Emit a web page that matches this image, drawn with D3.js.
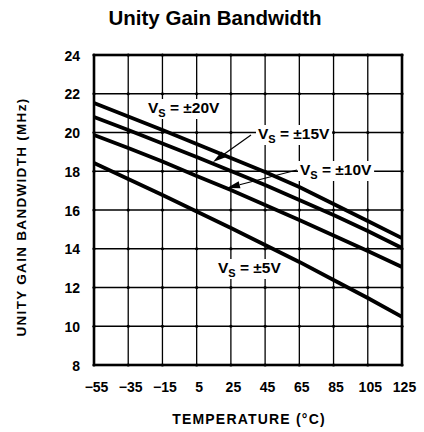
<!DOCTYPE html>
<html>
<head>
<meta charset="utf-8">
<script src="https://cdn.jsdelivr.net/npm/d3@7"></script>
<style>
  body { margin: 0; background: #fff; }
  text { font-family: 'Liberation Sans', Arial, sans-serif; font-weight: bold; fill: #000; }
</style>
</head>
<body>
<div id="chart"></div>
<script>
// Data
const temps = [-55, -35, -15, 5, 25, 45, 65, 85, 105, 125]
const vs20 = [21.52, 20.83, 20.13, 19.41, 18.68, 17.96, 17.19, 16.31, 15.43, 14.55]
const vs15 = [20.80, 20.13, 19.43, 18.74, 18.01, 17.29, 16.52, 15.74, 14.92, 14.04]
const vs10 = [19.87, 19.20, 18.50, 17.75, 17.03, 16.26, 15.48, 14.68, 13.88, 13.06]
const vs5 = [18.43, 17.60, 16.77, 15.92, 15.07, 14.19, 13.32, 12.39, 11.46, 10.48]
const yTicks = [8, 10, 12, 14, 16, 18, 20, 22, 24]
const labels = ['±20V', '±15V', '±10V', '±5V']

const width = 424,
  height = 432

let svg = d3.select('#chart')
  .append('svg')
  .attr('width', width)
  .attr('height', height)

const x = d3.scaleLinear().domain([-55, 125]).range([94, 402])
const y = d3.scaleLinear().domain([8, 24]).range([365, 55])

// title
svg.append('text')
  .attr('x', 215)
  .attr('y', 25)
  .attr('text-anchor', 'middle')
  .style('font-size', '20.5px')
  .text('Unity Gain Bandwidth')

// grid
svg.append('g')
  .selectAll('line')
  .data(temps)
  .enter()
  .append('line')
  .attr('x1', d => x(d)).attr('x2', d => x(d))
  .attr('y1', y(8)).attr('y2', y(24))
  .attr('stroke', '#000').attr('stroke-width', 1.3)

svg.append('g')
  .selectAll('line')
  .data(yTicks)
  .enter()
  .append('line')
  .attr('x1', x(-55)).attr('x2', x(125))
  .attr('y1', d => y(d)).attr('y2', d => y(d))
  .attr('stroke', '#000').attr('stroke-width', 1.3)

// little dots at grid crossings
let crossings = []
temps.forEach(t => yTicks.forEach(v => crossings.push([t, v])))
svg.append('g')
  .selectAll('circle')
  .data(crossings)
  .enter()
  .append('circle')
  .attr('cx', d => x(d[0]))
  .attr('cy', d => y(d[1]))
  .attr('r', 1.6)
  .attr('fill', '#000')

// frame
svg.append('rect')
  .attr('x', x(-55)).attr('y', y(24))
  .attr('width', x(125) - x(-55))
  .attr('height', y(8) - y(24))
  .attr('fill', 'none')
  .attr('stroke', '#000')
  .attr('stroke-width', 2.6)

// axes
const yAxis = d3.axisLeft(y).tickValues(yTicks).tickSize(0).tickPadding(14)
const xAxis = d3.axisBottom(x).tickValues(temps).tickSize(0).tickPadding(16)
  .tickFormat(d => d < 0 ? '\u2212' + Math.abs(d) : d)

let gy = svg.append('g').attr('transform', 'translate(' + x(-55) + ',0)').call(yAxis)
let gx = svg.append('g').attr('transform', 'translate(0,' + y(8) + ')').call(xAxis)
gy.select('.domain').remove()
gx.select('.domain').remove()
gy.selectAll('text').style('font-size', '14px').attr('dy', '0.36em')
gx.selectAll('text').style('font-size', '14px').attr('dx', '2').attr('dy', '0.75em')

// axis titles
svg.append('text')
  .attr('x', 249)
  .attr('y', 424)
  .attr('text-anchor', 'middle')
  .style('font-size', '14px')
  .style('letter-spacing', '1.2px')
  .text('TEMPERATURE (°C)')

svg.append('text')
  .attr('transform', 'translate(26,217) rotate(-90)')
  .attr('text-anchor', 'middle')
  .style('font-size', '13.5px')
  .style('letter-spacing', '1.3px')
  .text('UNITY GAIN BANDWIDTH (MHz)')

// curves
const line = d3.line()
  .x((d, i) => x(temps[i]))
  .y(d => y(d))

svg.append('g')
  .selectAll('path')
  .data([vs20, vs15, vs10, vs5])
  .enter()
  .append('path')
  .attr('d', line)
  .attr('fill', 'none')
  .attr('stroke', '#000')
  .attr('stroke-width', 3.8)

// leader arrows
const arrows = [
  { from: [251, 135], to: [213, 162] },
  { from: [297, 170], to: [227, 188] }
]
arrows.forEach(a => {
  let dx = a.to[0] - a.from[0], dy = a.to[1] - a.from[1]
  let len = Math.sqrt(dx * dx + dy * dy)
  let ux = dx / len, uy = dy / len
  let bx = a.to[0] - ux * 13, by = a.to[1] - uy * 13
  svg.append('line')
    .attr('x1', a.from[0]).attr('y1', a.from[1])
    .attr('x2', bx).attr('y2', by)
    .attr('stroke', '#000').attr('stroke-width', 1.2)
  svg.append('path')
    .attr('d', 'M' + a.to[0] + ',' + a.to[1] +
      'L' + (bx - uy * 3.5) + ',' + (by + ux * 3.5) +
      'L' + (bx + uy * 3.5) + ',' + (by - ux * 3.5) + 'Z')
    .attr('fill', '#000')
})

// curve labels with white backing
const labelPos = [[148, 113], [258, 139], [300, 175], [218, 273]]
labels.forEach((lab, i) => {
  let g = svg.append('g')
  let t = g.append('text')
    .attr('x', labelPos[i][0])
    .attr('y', labelPos[i][1])
    .style('font-size', '15.5px')
  t.append('tspan').text('V')
  t.append('tspan').attr('dy', 4).style('font-size', '11px').text('S')
  t.append('tspan').attr('dy', -4).text(' = ' + lab)
  let b = t.node().getBBox()
  g.insert('rect', 'text')
    .attr('x', b.x - 2).attr('y', b.y)
    .attr('width', b.width + 4).attr('height', b.height)
    .attr('fill', '#fff')
})
</script>
</body>
</html>
